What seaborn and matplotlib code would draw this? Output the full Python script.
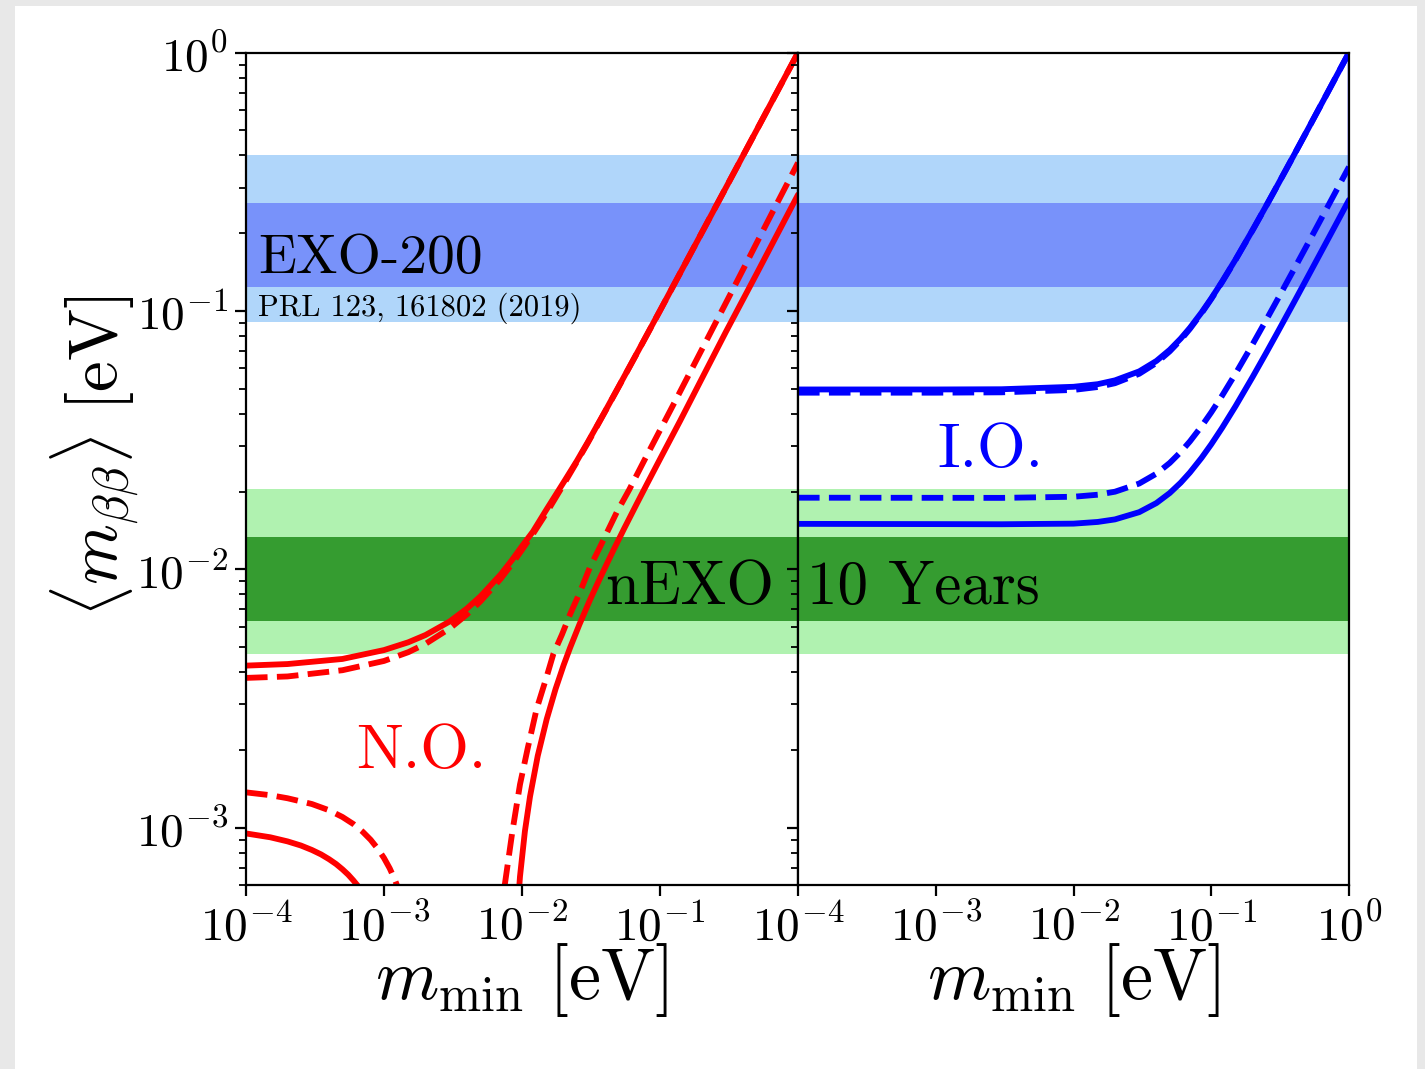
import numpy as np
import matplotlib
matplotlib.use("Agg")
import matplotlib.pyplot as plt
import seaborn as sns
from matplotlib.patches import Rectangle
from matplotlib.ticker import FuncFormatter, LogLocator, NullLocator, NullFormatter

# ---------------- experimental bands (eV) ----------------
exo200_outer = [0.091, 0.40]
exo200_inner = [0.124, 0.262]
nexo_outer = [0.0047, 0.0205]
nexo_inner = [0.0063, 0.0133]

# ---------------- normal ordering ----------------
no_x_upper = [1e-4, 2e-4, 5e-4, 1e-3, 1.5e-3, 2e-3, 3e-3, 4e-3, 5e-3, 7e-3,
              8.5e-3, 1e-2, 1.2e-2, 1.5e-2, 2e-2, 2.5e-2, 3e-2, 4e-2, 5e-2,
              7e-2, 1e-1, 2e-1, 3e-1, 5e-1, 1.0]
no_upper_3s = [4.24e-3, 4.30e-3, 4.50e-3, 4.87e-3, 5.22e-3, 5.57e-3, 6.29e-3,
               7.06e-3, 7.86e-3, 9.55e-3, 1.09e-2, 1.23e-2, 1.40e-2, 1.70e-2,
               2.17e-2, 2.63e-2, 3.11e-2, 4.09e-2, 5.08e-2, 7.06e-2, 1.004e-1,
               2.002e-1, 3.0e-1, 5.0e-1, 1.0]
no_upper_bf = [3.80e-3, 3.85e-3, 4.07e-3, 4.42e-3, 4.78e-3, 5.15e-3, 5.91e-3,
               6.70e-3, 7.52e-3, 9.19e-3, 1.053e-2, 1.19e-2, 1.371e-2,
               1.65e-2, 2.13e-2, 2.61e-2, 3.09e-2, 4.08e-2, 5.07e-2, 7.05e-2,
               1.003e-1, 2.002e-1, 3.0e-1, 5.0e-1, 1.0]

no_x_low_left_3s = [1e-4, 1.5e-4, 2e-4, 2.5e-4, 3e-4, 3.5e-4, 4e-4, 4.5e-4,
                    5e-4, 5.5e-4, 6e-4, 6.5e-4, 7e-4]
no_low_left_3s = [9.5e-4, 9.18e-4, 8.85e-4, 8.53e-4, 8.2e-4, 7.88e-4, 7.55e-4,
                  7.23e-4, 6.9e-4, 6.58e-4, 6.25e-4, 5.93e-4, 5.6e-4]
no_x_low_left_bf = [1e-4, 1.5e-4, 2e-4, 3e-4, 4e-4, 5e-4, 6e-4, 7e-4, 8e-4,
                    9e-4, 1e-3, 1.1e-3, 1.2e-3, 1.3e-3]
no_low_left_bf = [1.37e-3, 1.336e-3, 1.30e-3, 1.235e-3, 1.168e-3, 1.10e-3,
                  1.033e-3, 9.65e-4, 8.98e-4, 8.3e-4, 7.63e-4, 6.96e-4,
                  6.28e-4, 5.6e-4]

no_x_low_right_3s = [8.3e-3, 9.0e-3, 9.67e-3, 1.05e-2, 1.143e-2, 1.3e-2,
                     1.51e-2, 1.75e-2, 2.0e-2, 2.23e-2, 2.6e-2, 3.11e-2, 3.7e-2,
                     4.59e-2, 5.5e-2, 6.78e-2, 8e-2, 1e-1, 1.4e-1, 2e-1, 3e-1,
                     5e-1, 7e-1, 1.0]
no_low_right_3s = [1.0e-4, 3.8e-4, 6.47e-4, 9.7e-4, 1.32e-3, 1.896e-3, 2.63e-3,
                   3.44e-3, 4.25e-3, 4.97e-3, 6.10e-3, 7.62e-3, 9.32e-3,
                   1.185e-2, 1.439e-2, 1.792e-2, 2.127e-2, 2.672e-2, 3.76e-2,
                   5.45e-2, 8.3e-2, 1.39e-1, 1.96e-1, 2.82e-1]
no_x_low_right_bf = [6.8e-3, 7.5e-3, 8.5e-3, 9.67e-3, 1.1e-2, 1.276e-2, 1.5e-2,
                     1.687e-2, 1.95e-2, 2.23e-2, 2.6e-2, 3.11e-2, 3.7e-2,
                     4.85e-2, 6e-2, 8e-2, 1.3e-1, 2e-1, 3.5e-1, 6e-1, 1.0]
no_low_right_bf = [1.5e-4, 6.0e-4, 9.6e-4, 1.47e-3, 2.03e-3, 2.88e-3, 3.8e-3,
                   4.7e-3, 5.6e-3, 6.7e-3, 8.05e-3, 1.02e-2, 1.23e-2, 1.66e-2,
                   2.04e-2, 2.75e-2, 4.52e-2, 7.06e-2, 1.26e-1, 2.21e-1,
                   3.75e-1]

# ---------------- inverted ordering ----------------
io_x = [1e-4, 1e-3, 3e-3, 1e-2, 1.5e-2, 2e-2, 3e-2, 4e-2, 5e-2, 6e-2, 7e-2,
        8.5e-2, 1e-1, 1.2e-1, 1.5e-1, 2e-1, 2.5e-1, 3e-1, 4e-1, 5e-1, 7e-1,
        1.0]
io_upper_3s = [0.0497, 0.0497, 0.0498, 0.0509, 0.0521, 0.0539, 0.0584, 0.0641,
               0.0708, 0.0782, 0.0861, 0.0987, 0.1119, 0.1301, 0.1582, 0.2062,
               0.2550, 0.3042, 0.4031, 0.5025, 0.7018, 1.0013]
io_upper_bf = [0.0483, 0.0483, 0.04845, 0.04949, 0.0508, 0.05255, 0.05717,
               0.0630, 0.06984, 0.0773, 0.08532, 0.0980, 0.1113, 0.1296,
               0.1577, 0.2059, 0.2547, 0.3040, 0.4030, 0.5024, 0.7017, 1.0012]
io_lower_3s = [0.0150, 0.01497, 0.01495, 0.01503, 0.01526, 0.01561, 0.01665,
               0.01806, 0.01975, 0.02165, 0.02371, 0.02701, 0.03049, 0.03532,
               0.04281, 0.05565, 0.06872, 0.08191, 0.10847, 0.1352, 0.1887,
               0.2692]
io_lower_bf = [0.01894, 0.01892, 0.01891, 0.0191, 0.01945, 0.01998, 0.02149,
               0.02347, 0.02583, 0.02846, 0.03128, 0.03579, 0.04052, 0.04706,
               0.05719, 0.0745, 0.09211, 0.10985, 0.14557, 0.1814, 0.2534,
               0.3615]

x_ticks_left = [1e-4, 1e-3, 1e-2, 1e-1]
x_ticks_right = [1e-4, 1e-3, 1e-2, 1e-1, 1.0]

# ---------------- style ----------------
sns.set_style("ticks")
plt.rcParams["font.family"] = ["serif"]
plt.rcParams["font.serif"] = ["cmr10", "DejaVu Serif"]
plt.rcParams["mathtext.fontset"] = "cm"
plt.rcParams["axes.unicode_minus"] = False
for key in ("text.color", "axes.labelcolor", "xtick.color", "ytick.color",
            "axes.edgecolor"):
    plt.rcParams[key] = "black"

LIGHT_BLUE = "#b0d6fa"
DARK_BLUE = "#7892fa"
LIGHT_GREEN = "#b0f2b0"
DARK_GREEN = "#359c30"

W, H = 1425, 1069
fig = plt.figure(figsize=(W / 100, H / 100), dpi=100, facecolor="#e8e8e8")
fig.add_artist(Rectangle((15 / W, 0), (1417 - 15) / W, 1 - 6 / H,
                         transform=fig.transFigure, facecolor="white",
                         edgecolor="none", zorder=-10))

bottom, height = (H - 885) / H, (885 - 52.7) / H
ax1 = fig.add_axes([246 / W, bottom, 552 / W, height])
ax2 = fig.add_axes([798 / W, bottom, 551 / W, height], sharey=ax1)

pow_fmt = FuncFormatter(lambda v, p: r"$10^{%d}$" % int(round(np.log10(v))))

for ax in (ax1, ax2):
    ax.set_xscale("log")
    ax.set_yscale("log")
    ax.axhspan(*exo200_outer, color=LIGHT_BLUE, lw=0, zorder=0)
    ax.axhspan(*exo200_inner, color=DARK_BLUE, lw=0, zorder=0.1)
    ax.axhspan(*nexo_outer, color=LIGHT_GREEN, lw=0, zorder=0)
    ax.axhspan(*nexo_inner, color=DARK_GREEN, lw=0, zorder=0.1)
    for s in ax.spines.values():
        s.set_linewidth(1.6)
        s.set_color("black")
        s.set_zorder(5)

LW = 4.2
# normal ordering curves
sns.lineplot(x=no_x_upper, y=no_upper_3s, ax=ax1, color="red", lw=LW, zorder=2)
sns.lineplot(x=no_x_upper, y=no_upper_bf, ax=ax1, color="red", lw=LW,
             linestyle="--", zorder=2)
sns.lineplot(x=no_x_low_left_3s, y=no_low_left_3s, ax=ax1, color="red",
             lw=LW, zorder=2)
sns.lineplot(x=no_x_low_left_bf, y=no_low_left_bf, ax=ax1, color="red",
             lw=LW, linestyle="--", zorder=2)
sns.lineplot(x=no_x_low_right_3s, y=no_low_right_3s, ax=ax1, color="red",
             lw=LW, zorder=2)
sns.lineplot(x=no_x_low_right_bf, y=no_low_right_bf, ax=ax1, color="red",
             lw=LW, linestyle="--", zorder=2)

# inverted ordering curves
sns.lineplot(x=io_x, y=io_upper_3s, ax=ax2, color="blue", lw=LW, zorder=2)
sns.lineplot(x=io_x, y=io_upper_bf, ax=ax2, color="blue", lw=LW,
             linestyle="--", zorder=2)
sns.lineplot(x=io_x, y=io_lower_3s, ax=ax2, color="blue", lw=LW, zorder=2)
sns.lineplot(x=io_x, y=io_lower_bf, ax=ax2, color="blue", lw=LW,
             linestyle="--", zorder=2)
sns.lineplot(x=[io_x[-1], io_x[-1]], y=[io_upper_3s[-1], io_lower_3s[-1]],
             ax=ax2, color="blue", lw=2.5, sort=False, estimator=None, zorder=2)

for ax, ticks in ((ax1, x_ticks_left), (ax2, x_ticks_right)):
    ax.set_xlim(1e-4, 1.0)
    ax.set_ylim(6e-4, 1.0)
    ax.set_xticks(ticks)
    ax.xaxis.set_major_formatter(pow_fmt)
    ax.xaxis.set_minor_locator(NullLocator())
    ax.yaxis.set_major_locator(LogLocator(base=10))
    ax.yaxis.set_major_formatter(pow_fmt)
    ax.yaxis.set_minor_locator(LogLocator(base=10, subs=np.arange(2, 10)))
    ax.yaxis.set_minor_formatter(NullFormatter())
    ax.tick_params(which="major", direction="out", length=8, width=1.6,
                   labelsize=34, pad=5, color="black", labelcolor="black")
    ax.tick_params(which="minor", direction="out", length=5, width=1.3,
                   color="black")
    ax.tick_params(top=False, right=False)
    ax.set_xlabel(r"$m_{\rm min}\ [\mathrm{eV}]$", fontsize=52, labelpad=-6)

ax2.tick_params(axis="y", which="both", labelleft=False)
ax1.set_ylabel(r"$\langle m_{\beta\beta}\rangle\ [\mathrm{eV}]$", fontsize=50,
               labelpad=-4)
ax1.yaxis.label.set_y(0.515)
ax2.set_ylabel("")

# annotations
ax1.text(12 / 552, (885 - 273) / 832.3, "EXO-200", transform=ax1.transAxes,
         fontsize=40, family="cmr10", va="baseline", ha="left", zorder=4)
ax1.text(12 / 552, (885 - 316) / 832.3, "PRL 123, 161802 (2019)",
         transform=ax1.transAxes, fontsize=22, family="cmr10",
         va="baseline", ha="left", zorder=4)
ax1.text((356 - 246) / 552, (885 - 768) / 832.3, "N.O.",
         transform=ax1.transAxes, fontsize=45, family="cmr10", color="red",
         va="baseline", ha="left", zorder=4)
ax2.text((937 - 798) / 551, (885 - 467) / 832.3, "I.O.",
         transform=ax2.transAxes, fontsize=45, family="cmr10", color="blue",
         va="baseline", ha="left", zorder=4)
fig.text(605 / W, 1 - 604 / H, "nEXO", fontsize=44, family="cmr10",
         va="baseline", ha="left", zorder=6)
fig.text(807 / W, 1 - 604 / H, "10 Years", fontsize=44, family="cmr10",
         va="baseline", ha="left", zorder=6)

fig.savefig("out.png", dpi=100)
